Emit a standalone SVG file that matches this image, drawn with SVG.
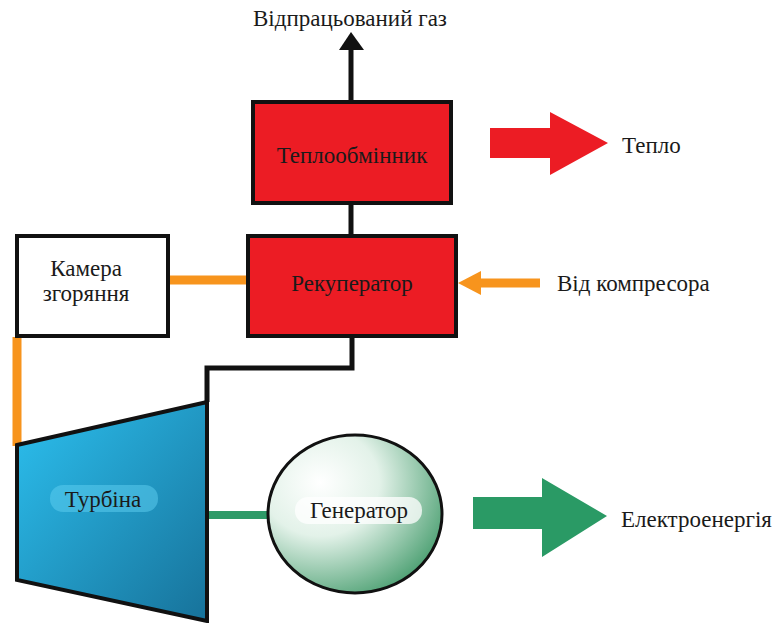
<svg xmlns="http://www.w3.org/2000/svg" width="778" height="623" viewBox="0 0 778 623">
  <style>
    .lbl { font-family: "Liberation Serif", "DejaVu Serif", serif; font-size: 23px; fill: #1a1a1a; }
    .box { stroke: #111; stroke-width: 4; }
    .red { fill: #ec1c24; }
    .pipe { fill: none; stroke: #111; stroke-width: 5; }
    .hot { fill: none; stroke: #f7941d; stroke-width: 9; }
  </style>
  <defs>
    <linearGradient id="turbineFill" x1="0" y1="0" x2="1" y2="1">
      <stop offset="0" stop-color="#2cc0ef"/>
      <stop offset="1" stop-color="#17729a"/>
    </linearGradient>
    <radialGradient id="genFill" cx="0.3" cy="0.3" r="0.85">
      <stop offset="0" stop-color="#ffffff"/>
      <stop offset="0.4" stop-color="#e3f2e9"/>
      <stop offset="1" stop-color="#3a9664"/>
    </radialGradient>
  </defs>

  <rect width="778" height="623" fill="#fff"/>

  <g id="connectors">
    <!-- exhaust up -->
    <line x1="351" y1="102" x2="351" y2="48" stroke="#111" stroke-width="5"/>
    <polygon points="339,50 351,32 364,50" fill="#111"/>
    <!-- heat exchanger to recuperator -->
    <line x1="351" y1="203" x2="351" y2="235" stroke="#111" stroke-width="5"/>
    <!-- recuperator to turbine outlet -->
    <polyline class="pipe" points="352,337 352,368 207,368 207,402"/>
    <!-- recuperator to combustion chamber -->
    <line x1="168" y1="280" x2="248" y2="280" class="hot" stroke-width="10"/>
    <!-- combustion chamber to turbine -->
    <line x1="17" y1="337" x2="17" y2="446" class="hot" stroke-width="8"/>
    <!-- compressor air inlet -->
    <line x1="478" y1="283" x2="540" y2="283" stroke="#f7941d" stroke-width="9"/>
    <polygon points="458,283 481,271 481,295" fill="#f7941d"/>
    <!-- shaft turbine to generator -->
    <line x1="208" y1="515" x2="270" y2="515" stroke="#2e9a68" stroke-width="8"/>
    <!-- heat output -->
    <polygon class="red" points="490,128 550,128 550,112 608,143 550,175 550,158 490,158"/>
    <!-- electricity output -->
    <polygon fill="#2a9a65" points="473,497 542,497 542,478 607,516 542,557 542,529 473,529"/>
  </g>

  <g id="heat-exchanger">
    <rect class="box red" x="253" y="102" width="198" height="101"/>
    <text class="lbl" x="352" y="163" text-anchor="middle">Теплообмінник</text>
  </g>

  <g id="recuperator">
    <rect class="box red" x="248" y="236" width="208" height="100"/>
    <text class="lbl" x="352" y="291" text-anchor="middle">Рекуператор</text>
  </g>

  <g id="combustion-chamber">
    <rect class="box" fill="#fff" x="17" y="236" width="151" height="100"/>
    <text class="lbl" x="86" y="276" text-anchor="middle">Камера</text>
    <text class="lbl" x="86" y="301" text-anchor="middle">згоряння</text>
  </g>

  <g id="turbine">
    <polygon points="17,445 207,402 207,621 17,580" fill="url(#turbineFill)" stroke="#111" stroke-width="4"/>
    <rect x="50" y="485" width="108" height="27" rx="13" fill="#5fd0f2" opacity="0.5"/>
    <text class="lbl" x="103" y="507" text-anchor="middle">Турбіна</text>
  </g>

  <g id="generator">
    <ellipse cx="355" cy="514" rx="87" ry="79" fill="url(#genFill)" stroke="#111" stroke-width="3"/>
    <rect x="295" y="497" width="127" height="27" rx="13" fill="#fff" opacity="0.75"/>
    <text class="lbl" x="359" y="518" text-anchor="middle">Генератор</text>
  </g>

  <g id="labels">
    <text class="lbl" x="350" y="26" text-anchor="middle">Відпрацьований газ</text>
    <text class="lbl" x="622" y="153">Тепло</text>
    <text class="lbl" x="557" y="291">Від компресора</text>
    <text class="lbl" x="621" y="527">Електроенергія</text>
  </g>
</svg>
